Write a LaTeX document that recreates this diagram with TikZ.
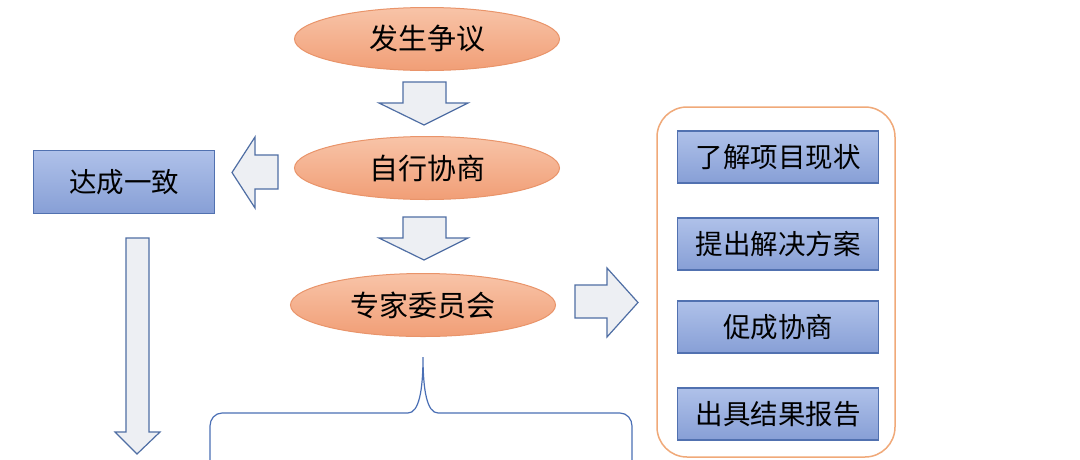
\documentclass[tikz,border=0pt]{standalone}
\usepackage{fontspec}
\newfontfamily\cjk{Noto Sans CJK SC}
\usetikzlibrary{shapes.geometric}
\definecolor{ovaltop}{HTML}{F8C4A8}
\definecolor{ovalbot}{HTML}{F19E76}
\definecolor{ovalline}{HTML}{E9946A}
\definecolor{boxtop}{HTML}{AFC1E9}
\definecolor{boxbot}{HTML}{879FD6}
\definecolor{boxline}{HTML}{5171B0}
\definecolor{arrfill}{HTML}{EDEFF3}
\definecolor{arrline}{HTML}{4F6EA4}
\definecolor{braceline}{HTML}{4A6FB5}
\definecolor{frameline}{HTML}{F0A979}
\tikzset{
  oval/.style={ellipse,draw=ovalline,line width=1pt,top color=ovaltop,bottom color=ovalbot,
    minimum width=265pt,minimum height=63pt,inner sep=0pt,font=\cjk\fontsize{29}{31}\selectfont},
  bluebox/.style={draw=boxline,line width=1.2pt,top color=boxtop,bottom color=boxbot,
    minimum width=201pt,minimum height=52pt,inner sep=0pt,font=\cjk\fontsize{27.5}{29}\selectfont},
  blkarrow/.style={draw=arrline,fill=arrfill,line width=1.2pt,line join=miter},
}
\begin{document}
\begin{tikzpicture}[x=1pt,y=-1pt]
\clip (0,0) rectangle (1080,459);
\fill[white] (0,0) rectangle (1080,459);
% flow in the middle
\node[oval] (dispute) at (427,39) {发生争议};
\node[oval] (negot) at (427,168) {自行协商};
\node[oval] (expert) at (423,305) {专家委员会};
\foreach \t in {82,217}
{
    \draw[blkarrow](403,\t)--(446,\t)--(446,\t+21)--(468,\t+21)--(424,\t+43)--(379,\t+21)--(403,\t+21)--cycle;
}
% left side
\node[bluebox,minimum width=181pt,minimum height=63pt] (agree) at (124,182) {达成一致};
\draw[blkarrow](278,155)--(255,155)--(255,137)--(232,172.5)--(255,208)--(255,189)--(278,189)--cycle;
\draw[blkarrow](126,238)--(149,238)--(149,432)--(160,432)--(137,454)--(115,432)--(126,432)--cycle;
% brace
\draw[braceline,line width=1.2pt](210,470)--(210,426)to[out=90,in=180](222,413)--(408,413)
    ..controls(419,413)and(423,390)..(423,357)..controls(423,390)and(427,413)..(438,413)
    --(620,413)to[out=0,in=90](632,426)--(632,470);
% right side
\draw[blkarrow](575,285)--(607,285)--(607,268)--(638,302.5)--(607,337)--(607,318)--(575,318)--cycle;
\draw[frameline,line width=1.5pt,rounded corners=30pt](657,107)rectangle(895,457);
\foreach \y/\name/\txt in {157/know/了解项目现状,244/plan/提出解决方案,327/promote/促成协商,414/report/出具结果报告}
{
    \node[bluebox] (\name) at (778,\y) {\txt};
}
\end{tikzpicture}
\end{document}
